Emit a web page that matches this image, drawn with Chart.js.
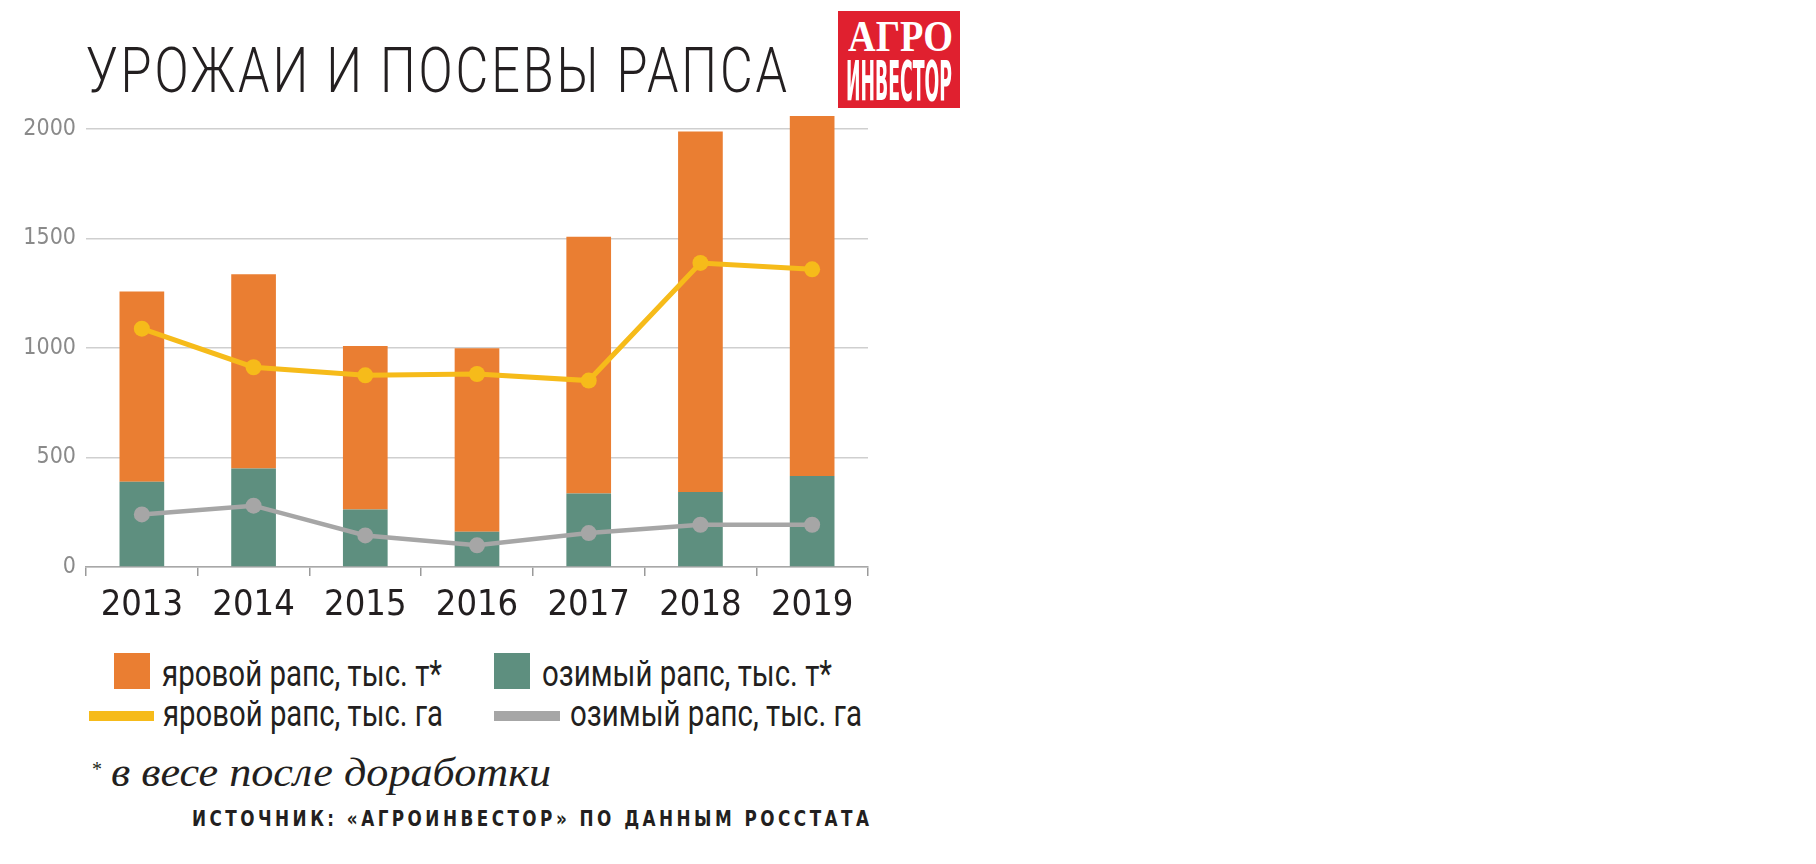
<!DOCTYPE html>
<html lang="ru">
<head>
<meta charset="utf-8">
<title>Урожаи и посевы рапса</title>
<script src="https://cdn.jsdelivr.net/npm/chart.js@4.4.1/dist/chart.umd.min.js"></script>
<style>
  html, body { margin: 0; padding: 0; background: #fff; }
  body {
    width: 1816px; height: 864px; position: relative; overflow: hidden;
    font-family: Roboto, 'Liberation Sans', sans-serif;
    color: #231f20;
  }
  .abs { position: absolute; white-space: nowrap; line-height: 1; transform-origin: 0 0; }
  #chart { position: absolute; left: 0; top: 0; }
  .title { left: 86px; top: 39px; font-size: 63px; font-weight: 300; }
  .logo { position: absolute; left: 838px; top: 11px; width: 122px; height: 97px; background: #E0202F; }
  .logo span { position: absolute; color: #fff; white-space: nowrap; line-height: 1; transform-origin: 0 0; }
  .logo .l1 { left: 10px; top: 4px; font-family: 'Liberation Serif', serif; font-weight: bold; font-size: 44px; }
  .logo .l2 { left: 8px; top: 42px; font-family: 'DejaVu Sans Condensed', 'Liberation Sans', sans-serif; font-weight: bold; font-size: 56px; }
  .box { position: absolute; width: 36px; height: 36px; }
  .bar-line { position: absolute; height: 10px; }
  .leg { font-size: 36px; }
  .star { left: 92px; top: 759px; font-family: 'Liberation Serif', serif; font-size: 20px; }
  .note { left: 111px; top: 752px; font-family: 'Liberation Serif', serif; font-style: italic; font-size: 41px; }
  .source { left: 192px; top: 808px; font-family: 'DejaVu Sans Condensed', 'Liberation Sans', sans-serif; font-size: 22px; font-weight: bold; }
</style>
</head>
<body>
<canvas id="chart" width="900" height="640"></canvas>

<div class="abs title" id="title">УРОЖАИ И ПОСЕВЫ РАПСА</div>
<div class="logo"><span class="l1" id="logo1">АГРО</span><span class="l2" id="logo2">ИНВЕСТОР</span></div>

<div class="box" style="left:114px; top:653px; background:#EA7E32;"></div>
<div class="abs leg" id="leg1" style="left:162px; top:656px;">яровой рапс, тыс. т*</div>
<div class="box" style="left:494px; top:653px; background:#5E8F7F;"></div>
<div class="abs leg" id="leg2" style="left:542px; top:656px;">озимый рапс, тыс. т*</div>
<div class="bar-line" style="left:89px; top:711px; width:65px; background:#F6BB1A;"></div>
<div class="abs leg" id="leg3" style="left:163px; top:696px;">яровой рапс, тыс. га</div>
<div class="bar-line" style="left:494px; top:711px; width:66px; background:#A6A6A6;"></div>
<div class="abs leg" id="leg4" style="left:570px; top:696px;">озимый рапс, тыс. га</div>

<div class="abs star">*</div>
<div class="abs note" id="note">в весе после доработки</div>
<div class="abs source" id="source">ИСТОЧНИК: «АГРОИНВЕСТОР» ПО ДАННЫМ РОССТАТА</div>

<script>
const years = ['2013', '2014', '2015', '2016', '2017', '2018', '2019'];
// урожай, тыс. т (в весе после доработки)
const springHarvest = [869, 886, 746, 838, 1172, 1646, 1643];
const winterHarvest = [389, 450, 263, 161, 336, 342, 416];
// посевные площади, тыс. га
const springArea = [1088, 912, 875, 881, 851, 1388, 1359];
const winterArea = [240, 280, 144, 99, 155, 193, 193];
const yTicks = [0, 500, 1000, 1500, 2000];

const ORANGE = '#EA7E32', GREEN = '#5E8F7F', YELLOW = '#F6BB1A', GREY = '#A6A6A6';

// squeeze glyphs horizontally, then open up letter-spacing so the line ends at `width`
function fitText(id, width, squeeze) {
    const el = document.getElementById(id);
    el.style.letterSpacing = '0px';
    const natural = el.getBoundingClientRect().width;
    const n = el.textContent.length - 1;
    if (squeeze) {
        el.style.letterSpacing = ((width / squeeze - natural) / n) + 'px';
        el.style.transform = 'scaleX(' + squeeze + ')';
    } else {
        el.style.transform = 'scaleX(' + (width / natural) + ')';
    }
}

fitText('title', 701, 0.8);
fitText('source', 677, 0.85);
fitText('logo1', 105);
fitText('logo2', 106);
fitText('leg1', 280);
fitText('leg2', 290);
fitText('leg3', 280);
fitText('leg4', 292);
fitText('note', 440);

Chart.defaults.font.family = "'DejaVu Sans Condensed', 'Liberation Sans', sans-serif";

const lineStyle = color => ({
    borderColor: color,
    backgroundColor: color,
    pointBackgroundColor: color,
    pointBorderColor: color,
    pointBorderWidth: 0,
    pointRadius: 8,
    pointHoverRadius: 8,
    tension: 0,
    order: 0
});

new Chart(document.getElementById('chart'), {
    data: {
        labels: years,
        datasets: [
            { type: 'line', label: 'яровой рапс, тыс. га', data: springArea, borderWidth: 5, stack: 'spring-area', ...lineStyle(YELLOW) },
            { type: 'line', label: 'озимый рапс, тыс. га', data: winterArea, borderWidth: 4.5, stack: 'winter-area', ...lineStyle(GREY) },
            { type: 'bar', label: 'озимый рапс, тыс. т*', data: winterHarvest, backgroundColor: GREEN, stack: 'harvest', order: 1 },
            { type: 'bar', label: 'яровой рапс, тыс. т*', data: springHarvest, backgroundColor: ORANGE, stack: 'harvest', order: 1 }
        ]
    },
    options: {
        responsive: false,
        animation: false,
        layout: { padding: { top: 107, right: 32, left: 0, bottom: 0 } },
        datasets: { bar: { barPercentage: 0.4, categoryPercentage: 1 } },
        plugins: {
            legend: { display: false },
            tooltip: { enabled: false }
        },
        scales: {
            x: {
                stacked: true,
                grid: { offset: true, drawOnChartArea: false, drawTicks: true, tickLength: 9, color: '#9a9a9a', lineWidth: 1.5 },
                border: { color: '#a8a8a8', width: 1.5 },
                ticks: { color: '#231f20', font: { size: 36 }, padding: 8 },
                afterFit: scale => { scale.height = 73; }
            },
            y: {
                stacked: true,
                min: 0,
                max: 2100,
                afterBuildTicks: scale => { scale.ticks = yTicks.map(v => ({ value: v })); },
                grid: { color: '#cfcfcf', drawTicks: false, lineWidth: 1.5 },
                border: { display: false },
                ticks: { color: '#8a8a8a', font: { size: 23 }, padding: 10, callback: v => String(v) },
                afterFit: scale => { scale.width = 86; }
            }
        }
    }
});
</script>
</body>
</html>
